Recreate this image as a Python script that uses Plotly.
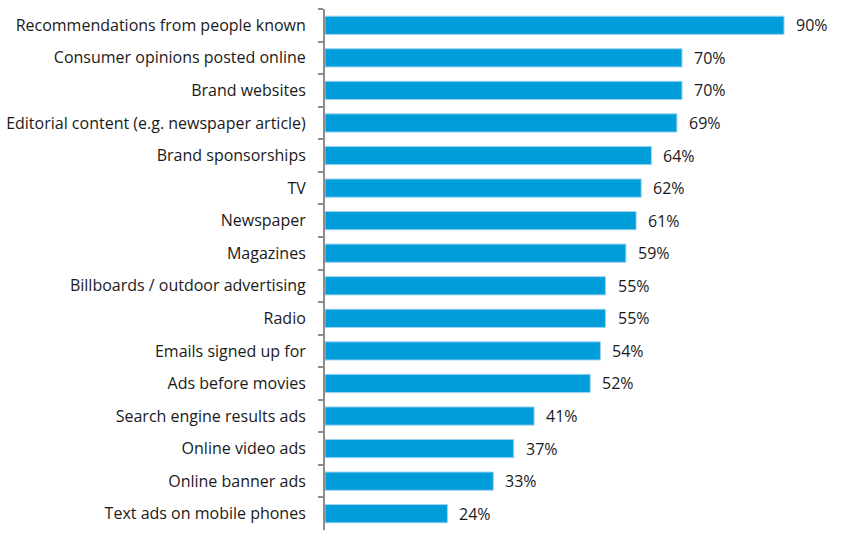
import plotly.graph_objects as go

categories = [
    "Recommendations from people known",
    "Consumer opinions posted online",
    "Brand websites",
    "Editorial content (e.g. newspaper article)",
    "Brand sponsorships",
    "TV",
    "Newspaper",
    "Magazines",
    "Billboards / outdoor advertising",
    "Radio",
    "Emails signed up for",
    "Ads before movies",
    "Search engine results ads",
    "Online video ads",
    "Online banner ads",
    "Text ads on mobile phones",
]
values = [90, 70, 70, 69, 64, 62, 61, 59, 55, 55, 54, 52, 41, 37, 33, 24]

font = "Open Sans"

fig = go.Figure()
fig.add_trace(go.Bar(
    x=values, y=categories, orientation="h",
    marker=dict(color="#009DDB", line=dict(color="#9FD3F0", width=1)),
    hoverinfo="skip",
))
for c, v in zip(categories, values):
    fig.add_annotation(x=v, y=c, text=f"{v}%", showarrow=False,
                       xanchor="left", xshift=10,
                       font=dict(family=font, size=16, color="#1a1a1a"))

fig.update_layout(
    width=843, height=543,
    margin=dict(l=325, r=9, t=9, b=13),
    paper_bgcolor="white", plot_bgcolor="white",
    bargap=0.44,
    showlegend=False,
    font=dict(family=font, size=16, color="#1a1a1a"),
)
fig.update_xaxes(range=[0, 99.8], visible=False, showgrid=False, zeroline=False,
                 automargin=False)
fig.update_yaxes(
    autorange="reversed", type="category", automargin=False,
    showline=True, linecolor="#8c8c8c", linewidth=2,
    ticks="outside", ticklen=5, tickcolor="#8c8c8c", tickwidth=2,
    tickson="boundaries", ticklabelstandoff=14,
    showgrid=False, zeroline=False,
    tickfont=dict(family=font, size=16, color="#1a1a1a"),
)
fig.write_html("out.html")
